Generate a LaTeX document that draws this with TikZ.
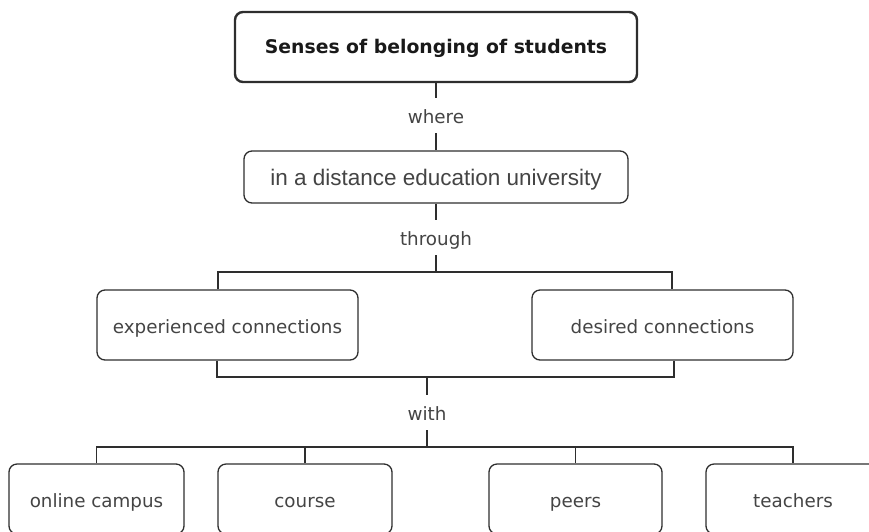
\documentclass[tikz,border=0pt]{standalone}
\usepackage{fontspec}
\setmainfont{DejaVu Sans}
\newfontfamily\arialf{Liberation Sans}
\usetikzlibrary{calc}
\definecolor{linec}{HTML}{2E2E2E}
\definecolor{txt}{HTML}{444444}
\begin{document}
\begin{tikzpicture}[x=1pt,y=-1pt,
  box/.style={draw=linec, line width=1.3pt, rounded corners=8pt, align=center,
    inner sep=0pt, text=txt, font=\fontsize{18.3}{22}\selectfont,
    text height=19pt, text depth=3pt},
  titlebox/.style={box, line width=2.4pt, text=black!90, font=\fontsize{18.8}{22}\selectfont\bfseries,
    text height=16pt, text depth=4pt},
  lbl/.style={fill=white, inner sep=0pt, minimum width=80pt, minimum height=35pt,
    text=txt, font=\fontsize{18.3}{22}\selectfont, text height=19pt, text depth=3pt},
  conn/.style={draw=linec, line width=1.3pt}]
\useasboundingbox (0,0) rectangle (869,531);
\clip (0,0) rectangle (869,531);

\node[titlebox, minimum width=402pt, minimum height=70pt] (title) at (436,47) {Senses of belonging of students};
\node[box, minimum width=384pt, minimum height=52pt, font=\fontsize{22.5}{26}\selectfont\arialf, text height=20pt, text depth=4pt] (uni) at (436,177) {in a distance education university};
\node[box, minimum width=261pt, minimum height=70pt] (exp) at (227.5,325) {experienced connections};
\node[box, minimum width=261pt, minimum height=70pt] (des) at (662.5,325) {desired connections};

\node[box, minimum width=175pt, minimum height=70pt] (campus) at (96.5,499) {online campus};
\node[box, minimum width=174pt, minimum height=70pt] (course) at (305,499) {course};
\node[box, minimum width=173pt, minimum height=70pt] (peers) at (575.5,499) {peers};
\node[box, minimum width=174pt, minimum height=70pt] (teach) at (793,499) {teachers};

\coordinate (j1) at (436,272);
\coordinate (j2) at (427,377);
\coordinate (j3) at (427,447);

% title -> university
\draw[conn] (title.south) -- (uni.north);
\node[lbl] (where) at (436,115.5) {where};

% university -> experienced / desired
\draw[conn] (uni.south) -- (j1);
\draw[conn] ([xshift=-9.5pt]exp.north) |- (j1) -| ([xshift=9.5pt]des.north);
\node[lbl] (through) at (436,237.5) {through};

% experienced / desired -> with
\draw[conn] ([xshift=-10.5pt]exp.south) |- (j2) -| ([xshift=11.5pt]des.south);
\draw[conn] (j2) -- (j3);
\node[lbl] (with) at (427,412.5) {with};

% with -> four targets
\draw[conn] (campus.north) |- (j3) -| (teach.north);
\draw[conn] (course.north) -- (course.north |- j3);
\draw[conn] (peers.north) -- (peers.north |- j3);
\end{tikzpicture}
\end{document}
